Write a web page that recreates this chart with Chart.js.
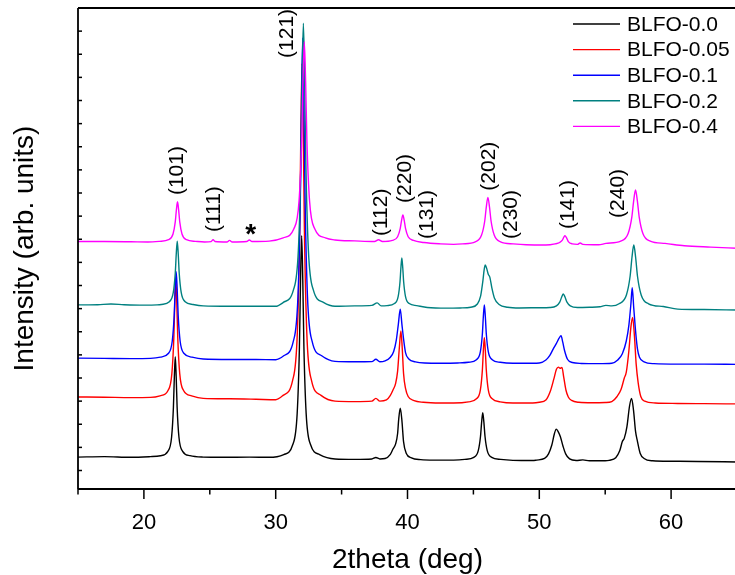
<!DOCTYPE html>
<html>
<head>
<meta charset="utf-8">
<script src="https://cdn.jsdelivr.net/npm/chart.js@4.4.1/dist/chart.umd.min.js"></script>
<style>
  body { margin: 0; overflow: hidden; background: #fff; }
</style>
</head>
<body>
<canvas id="xrd" width="760" height="575"></canvas>
<script>
// XRD patterns, [2theta, stacked intensity]
const blfo00 = [[15,0.58],[17,0.6],[19,0.57],[20.5,0.6],[21.26,0.64],[21.82,0.83],[22.1,1.44],[22.24,2.75],[22.31,4.05],[22.38,4.92],[22.45,4.05],[22.52,2.75],[22.66,1.44],[22.94,0.83],[23.5,0.64],[24.5,0.58],[26,0.57],[28,0.58],[29.5,0.57],[30.61,0.69],[31.29,1.11],[31.63,2.47],[31.8,5.35],[31.885,8.23],[31.97,10.15],[32.055,8.23],[32.14,5.35],[32.31,2.47],[32.65,1.11],[33.33,0.69],[34.5,0.5],[36,0.48],[37.3,0.5],[37.6,0.56],[37.9,0.5],[38.3,0.52],[38.7,0.7],[38.9,0.93],[39.1,1.15],[39.25,1.6],[39.33,2.2],[39.45,2.69],[39.57,2.2],[39.7,1.25],[39.9,0.75],[40.3,0.55],[41,0.47],[42,0.45],[43.5,0.45],[44.35,0.48],[45.03,0.57],[45.37,0.86],[45.54,1.48],[45.625,2.09],[45.71,2.5],[45.795,2.09],[45.88,1.48],[46.05,0.86],[46.39,0.57],[47.07,0.48],[48,0.44],[49.5,0.43],[49.8,0.45],[50.4,0.52],[50.7,0.72],[50.95,1.1],[51.15,1.6],[51.29,1.79],[51.45,1.66],[51.6,1.46],[51.8,1.05],[52,0.72],[52.3,0.5],[52.8,0.43],[53.3,0.46],[53.8,0.42],[55,0.42],[55.3,0.44],[55.8,0.55],[56.1,0.85],[56.3,1.25],[56.45,1.4],[56.65,1.9],[56.85,2.8],[57,3.12],[57.15,2.6],[57.3,1.7],[57.45,1.25],[57.65,0.75],[57.95,0.52],[58.6,0.42],[60,0.4],[62,0.39],[65,0.37]];
const blfo005 = [[15,3.18],[17,3.17],[19,3.15],[20.5,3.16],[21.22,3.23],[21.82,3.45],[22.12,4.18],[22.27,5.73],[22.345,7.27],[22.42,8.3],[22.495,7.27],[22.57,5.73],[22.72,4.18],[23.02,3.45],[23.62,3.23],[24.5,3.12],[26.5,3.1],[28.5,3.08],[30,3.06],[30.56,3.25],[31.28,3.89],[31.64,5.94],[31.82,10.32],[31.91,14.69],[32,17.6],[32.09,14.69],[32.18,10.32],[32.36,5.94],[32.72,3.89],[33.44,3.25],[34.5,3],[36,2.98],[37.3,3],[37.6,3.12],[37.9,3],[38.4,3.05],[38.7,3.25],[38.9,3.48],[39.1,3.77],[39.25,4.3],[39.38,5.3],[39.5,6.03],[39.6,5.3],[39.7,4.2],[39.85,3.55],[40.05,3.2],[40.5,3.02],[41.2,2.95],[42.5,2.92],[43.5,2.92],[44.63,2.97],[45.23,3.1],[45.53,3.49],[45.68,4.34],[45.755,5.18],[45.83,5.74],[45.905,5.18],[45.98,4.34],[46.13,3.49],[46.43,3.1],[47.03,2.97],[48,2.92],[49.5,2.92],[50,2.95],[50.5,3.05],[50.85,3.45],[51.1,3.95],[51.3,4.38],[51.45,4.47],[51.58,4.42],[51.72,4.46],[51.85,4.05],[52.02,3.48],[52.2,3.18],[52.45,3.03],[53,2.95],[54,2.93],[55,2.94],[55.5,2.98],[55.9,3.2],[56.2,3.5],[56.45,4],[56.6,4.25],[56.8,5.2],[56.95,6.2],[57.08,6.62],[57.22,5.8],[57.35,4.6],[57.5,3.8],[57.7,3.2],[58,3],[58.8,2.92],[60.5,2.9],[62.5,2.89],[65,2.88]];
const blfo01 = [[15,4.86],[17,4.85],[19,4.84],[20.5,4.85],[21.25,4.9],[21.85,5.06],[22.15,5.59],[22.3,6.72],[22.375,7.85],[22.45,8.6],[22.525,7.85],[22.6,6.72],[22.75,5.59],[23.05,5.06],[23.65,4.9],[24.5,4.82],[26.5,4.8],[28.5,4.8],[30,4.79],[30.61,4.96],[31.33,5.57],[31.69,7.54],[31.87,11.73],[31.96,15.91],[32.05,18.7],[32.14,15.91],[32.23,11.73],[32.41,7.54],[32.77,5.57],[33.49,4.96],[34.5,4.72],[36,4.7],[37.3,4.71],[37.6,4.81],[37.9,4.7],[38.3,4.74],[38.7,4.9],[38.95,5.15],[39.15,5.64],[39.3,6.3],[39.45,6.98],[39.58,6.3],[39.68,5.79],[39.85,5.1],[40.1,4.82],[40.6,4.7],[41.3,4.65],[42.5,4.64],[43.8,4.65],[44.63,4.68],[45.23,4.79],[45.53,5.14],[45.68,5.9],[45.755,6.66],[45.83,7.16],[45.905,6.66],[45.98,5.9],[46.13,5.14],[46.43,4.79],[47.03,4.68],[48,4.64],[49.5,4.64],[50,4.65],[50.5,4.78],[50.8,4.98],[51.05,5.25],[51.3,5.5],[51.5,5.72],[51.65,5.83],[51.78,5.55],[51.92,5.18],[52.15,4.8],[52.5,4.67],[53.2,4.63],[54.5,4.62],[55.5,4.64],[55.95,4.78],[56.3,5.05],[56.6,5.6],[56.8,6.3],[56.95,7.2],[57.05,7.9],[57.17,7],[57.32,5.93],[57.45,5.25],[57.6,4.9],[57.95,4.7],[58.7,4.62],[60.5,4.6],[62.5,4.6],[65,4.59]];
const blfo02 = [[15,7.16],[16.5,7.17],[17.5,7.2],[18.5,7.17],[20,7.15],[21,7.16],[21.33,7.18],[21.93,7.3],[22.23,7.7],[22.38,8.53],[22.455,9.36],[22.53,9.92],[22.605,9.36],[22.68,8.53],[22.83,7.7],[23.13,7.3],[23.73,7.18],[24.5,7.12],[26.5,7.1],[28.5,7.1],[30,7.1],[30.58,7.27],[31.34,7.8],[31.72,9.53],[31.91,13.21],[32.005,16.89],[32.1,19.34],[32.195,16.89],[32.29,13.21],[32.48,9.53],[32.86,7.8],[33.62,7.27],[34.5,7.1],[36,7.12],[37.3,7.14],[37.7,7.25],[38,7.12],[38.45,7.13],[39.01,7.22],[39.29,7.52],[39.43,8.15],[39.5,8.77],[39.57,9.19],[39.64,8.77],[39.71,8.15],[39.85,7.52],[40.13,7.22],[40.69,7.13],[41.5,7.05],[43,7.02],[44,7.03],[44.8,7.06],[45.3,7.2],[45.55,7.55],[45.72,8.2],[45.82,8.7],[45.9,8.89],[46,8.75],[46.12,8.5],[46.25,8.35],[46.4,7.9],[46.6,7.45],[46.95,7.18],[47.6,7.06],[48.5,7.03],[50,7.04],[50.8,7.05],[51.3,7.12],[51.55,7.28],[51.7,7.5],[51.82,7.63],[51.95,7.5],[52.1,7.28],[52.35,7.12],[52.9,7.05],[53.8,7.06],[54.6,7.08],[55.05,7.14],[55.5,7.12],[56.05,7.21],[56.61,7.59],[56.89,8.4],[57.03,9.21],[57.17,9.75],[57.31,9.21],[57.45,8.4],[57.73,7.59],[58.29,7.21],[59.41,7.09],[60.5,6.98],[62.5,6.96],[65,6.94]];
const blfo04 = [[15,9.9],[17,9.9],[19,9.89],[20.3,9.88],[21.19,9.91],[21.87,9.98],[22.21,10.23],[22.38,10.75],[22.465,11.27],[22.55,11.62],[22.635,11.27],[22.72,10.75],[22.89,10.23],[23.23,9.98],[23.91,9.91],[24.6,9.88],[25.1,9.9],[25.25,9.98],[25.4,9.9],[26.3,9.88],[26.5,9.95],[26.7,9.88],[27.8,9.9],[28,9.97],[28.2,9.9],[29.5,9.92],[30.57,10.06],[31.37,10.44],[31.77,11.65],[31.97,14.24],[32.07,16.82],[32.17,18.54],[32.27,16.82],[32.37,14.24],[32.57,11.65],[32.97,10.44],[33.77,10.06],[34.5,9.97],[36,9.93],[37.5,9.9],[37.8,9.98],[38.1,9.9],[38.85,9.95],[39.25,10.11],[39.45,10.47],[39.55,10.82],[39.65,11.05],[39.75,10.82],[39.85,10.47],[40.05,10.11],[40.45,9.95],[41.25,9.86],[42.5,9.8],[43.5,9.78],[44.18,9.8],[45.14,9.89],[45.62,10.18],[45.86,10.79],[45.98,11.4],[46.1,11.81],[46.22,11.4],[46.34,10.79],[46.58,10.18],[47.06,9.89],[48.02,9.8],[49,9.76],[50.5,9.75],[51.2,9.8],[51.55,9.86],[51.75,9.96],[51.87,10.1],[51.95,10.15],[52.05,10.08],[52.2,9.9],[52.5,9.8],[52.9,9.78],[53.1,9.84],[53.3,9.78],[54.5,9.76],[55.06,9.82],[56.18,9.92],[56.74,10.25],[57.02,10.96],[57.16,11.66],[57.3,12.13],[57.44,11.66],[57.58,10.96],[57.86,10.25],[58.42,9.92],[59.54,9.82],[61,9.72],[63,9.66],[65,9.61]];

const seriesNames = ['BLFO-0.0', 'BLFO-0.05', 'BLFO-0.1', 'BLFO-0.2', 'BLFO-0.4'];
const seriesColors = ['#000000', '#ff0000', '#0000ff', '#008080', '#ff00ff'];
const seriesData = [blfo00, blfo005, blfo01, blfo02, blfo04];

// reflection labels: text, 2theta position, intensity at the bottom of the text
const peakLabels = ['(101)', '(111)', '(121)', '(112)', '(220)', '(131)', '(202)', '(230)', '(141)', '(240)'];
const peakLabelX = [22.56, 25.36, 30.88, 38.0, 39.8, 41.5, 46.18, 47.85, 52.2, 55.98];
const peakLabelY = [11.91, 10.31, 17.84, 10.14, 11.57, 10.01, 12.10, 10.01, 10.44, 10.92];
const starX = 28.1, starY = 9.82;

const FONT = "'Liberation Sans', Arial, sans-serif";

let datasets = seriesData.map((pts, i) => ({
    label: seriesNames[i],
    data: pts.map(p => ({x: p[0], y: p[1]})),
    borderColor: seriesColors[i],
    borderWidth: 1.4,
    pointRadius: 0,
    fill: false,
    cubicInterpolationMode: 'monotone',
    order: seriesData.length - i
}));

const decor = {
    id: 'decor',
    afterDraw(chart) {
        const ctx = chart.ctx;
        const xs = chart.scales.x, ys = chart.scales.y;
        const a = chart.chartArea;
        ctx.save();
        ctx.strokeStyle = '#000';
        ctx.lineWidth = 1.8;
        ctx.beginPath();
        ctx.moveTo(a.left, a.top); ctx.lineTo(a.right, a.top);
        ctx.moveTo(a.left, a.top); ctx.lineTo(a.left, a.bottom);
        ctx.moveTo(a.left, a.bottom); ctx.lineTo(a.right, a.bottom);
        ctx.stroke();

        // x ticks outward, long at labelled values
        ctx.lineWidth = 1.5;
        xs.ticks.forEach(t => {
            const px = xs.getPixelForValue(t.value);
            const len = t.value % 10 === 0 ? 10 : 5.5;
            ctx.beginPath();
            ctx.moveTo(px, a.bottom); ctx.lineTo(px, a.bottom + len);
            ctx.stroke();
        });
        // y ticks inward, no labels
        for (let v = 0; v <= 20; v++) {
            const py = ys.getPixelForValue(v);
            ctx.beginPath();
            ctx.moveTo(a.left, py); ctx.lineTo(a.left + 4, py);
            ctx.stroke();
        }

        // reflection labels
        ctx.fillStyle = '#000';
        ctx.font = '21px ' + FONT;
        ctx.textAlign = 'left';
        ctx.textBaseline = 'middle';
        peakLabels.forEach((txt, i) => {
            ctx.save();
            ctx.translate(xs.getPixelForValue(peakLabelX[i]), ys.getPixelForValue(peakLabelY[i]));
            ctx.rotate(-Math.PI / 2);
            ctx.fillText(txt, 0, 0);
            ctx.restore();
        });
        ctx.font = 'bold 28px ' + FONT;
        ctx.textAlign = 'center';
        ctx.textBaseline = 'alphabetic';
        ctx.fillText('*', xs.getPixelForValue(starX), ys.getPixelForValue(starY));

        // legend, top right inside the frame
        ctx.font = '21px ' + FONT;
        ctx.textAlign = 'left';
        ctx.textBaseline = 'middle';
        chart.data.datasets.forEach((ds, i) => {
            const yy = 24 + i * 25.6;
            ctx.strokeStyle = ds.borderColor;
            ctx.lineWidth = 1.4;
            ctx.beginPath();
            ctx.moveTo(573, yy); ctx.lineTo(620, yy);
            ctx.stroke();
            ctx.fillText(ds.label, 627, yy + 1);
        });
        ctx.restore();
    }
};

new Chart(document.getElementById('xrd'), {
    type: 'line',
    data: { datasets: datasets },
    options: {
        responsive: false,
        animation: false,
        devicePixelRatio: 1,
        layout: { padding: { left: 0, top: 8, right: 22, bottom: 0 } },
        plugins: { legend: { display: false }, tooltip: { enabled: false } },
        scales: {
            x: {
                type: 'linear',
                min: 15,
                max: 65,
                afterFit: s => { s.height = 86; },
                grid: { display: false, drawTicks: false },
                border: { display: false },
                ticks: {
                    stepSize: 5,
                    autoSkip: false,
                    maxRotation: 0,
                    padding: 23,
                    color: '#000',
                    font: { family: FONT, size: 22, lineHeight: 1 },
                    callback: v => (v % 10 === 0 ? v : '')
                },
                title: {
                    display: true,
                    text: '2theta (deg)',
                    color: '#000',
                    font: { family: FONT, size: 28, lineHeight: 1 },
                    padding: { top: 0, bottom: 1 }
                }
            },
            y: {
                min: -0.8,
                max: 20,
                afterFit: s => { s.width = 78; },
                grid: { display: false, drawTicks: false },
                border: { display: false },
                ticks: { display: false, stepSize: 1 },
                title: {
                    display: true,
                    text: 'Intensity (arb. units)',
                    color: '#000',
                    font: { family: FONT, size: 28, lineHeight: 1 },
                    padding: { top: 11, bottom: 0 }
                }
            }
        }
    },
    plugins: [decor]
});
</script>
</body>
</html>
